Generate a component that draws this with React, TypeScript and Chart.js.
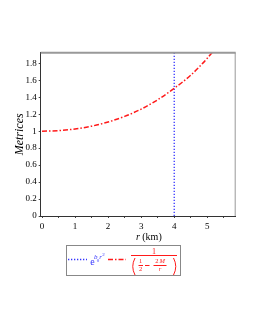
import React, { useEffect, useRef } from "react";
import { Chart, registerables } from "chart.js";

Chart.register(...registerables);

// Data
const rValues = [0, 0.5, 1, 1.5, 2, 2.5, 3, 3.5, 4, 4.5, 5, 5.5];
const metricValues = [1.0, 1.006, 1.026, 1.059, 1.108, 1.174, 1.26, 1.37, 1.506, 1.66, 1.86, 2.1];
const radiusLineX = [4, 4];
const radiusLineY = [0, 1.925];
const xMajorTicks = [0, 1, 2, 3, 4, 5];
const xMinorTicks = [0.5, 1.5, 2.5, 3.5, 4.5, 5.5];
const yTicks = [0, 0.2, 0.4, 0.6, 0.8, 1, 1.2, 1.4, 1.6, 1.8];
const yTitle = "Metrices";
const xTitleVar = "r";
const xTitleUnit = " (km)";

const SERIF = "'Liberation Serif', 'DejaVu Serif', serif";
const RED = "#ff1a1a";
const BLUE = "#3333ff";

const decorPlugin = {
  id: "decor",
  afterDraw(chart: any) {
    const ctx = chart.ctx as CanvasRenderingContext2D;
    const a = chart.chartArea;
    ctx.save();
    // frame top and right
    ctx.strokeStyle = "#999";
    ctx.setLineDash([]);
    ctx.lineWidth = 2;
    ctx.beginPath();
    ctx.moveTo(a.left, a.top);
    ctx.lineTo(a.right, a.top);
    ctx.stroke();
    ctx.lineWidth = 1;
    ctx.beginPath();
    ctx.moveTo(a.right - 0.5, a.top);
    ctx.lineTo(a.right - 0.5, a.bottom);
    ctx.stroke();

    // y title
    ctx.fillStyle = "#000";
    ctx.font = `italic 12px ${SERIF}`;
    ctx.textAlign = "center";
    ctx.textBaseline = "middle";
    ctx.save();
    ctx.translate(20, (a.top + a.bottom) / 2);
    ctx.rotate(-Math.PI / 2);
    ctx.fillText(yTitle, 0, 0);
    ctx.restore();

    // x title
    ctx.textAlign = "left";
    ctx.font = `italic 10px ${SERIF}`;
    const w1 = ctx.measureText(xTitleVar).width;
    ctx.font = `10px ${SERIF}`;
    const w2 = ctx.measureText(xTitleUnit).width;
    const x0 = 148.8 - (w1 + w2) / 2;
    ctx.font = `italic 10px ${SERIF}`;
    ctx.fillText(xTitleVar, x0, 237.5);
    ctx.font = `10px ${SERIF}`;
    ctx.fillText(xTitleUnit, x0 + w1, 237.5);

    // legend box
    ctx.strokeStyle = "#888";
    ctx.lineWidth = 1;
    ctx.strokeRect(66.5, 245.5, 114, 30);

    // blue sample
    ctx.strokeStyle = BLUE;
    ctx.lineWidth = 1.3;
    ctx.setLineDash([1.3, 1.7]);
    ctx.beginPath();
    ctx.moveTo(68, 259.5);
    ctx.lineTo(87, 259.5);
    ctx.stroke();
    ctx.setLineDash([]);
    ctx.fillStyle = BLUE;
    ctx.textBaseline = "alphabetic";
    ctx.textAlign = "left";
    ctx.font = `10px ${SERIF}`;
    ctx.fillText("e", 90.3, 265);
    ctx.font = `italic 7px ${SERIF}`;
    ctx.fillText("b", 94, 258.5);
    ctx.font = `5px ${SERIF}`;
    ctx.fillText("0", 96.8, 262);
    ctx.font = `italic 7px ${SERIF}`;
    ctx.fillText("r", 99.2, 258.5);
    ctx.font = `5px ${SERIF}`;
    ctx.fillText("2", 102.3, 255.5);

    // red sample
    ctx.strokeStyle = RED;
    ctx.lineWidth = 1.5;
    ctx.setLineDash([5, 2, 1.5, 2]);
    ctx.beginPath();
    ctx.moveTo(108, 259.5);
    ctx.lineTo(126, 259.5);
    ctx.stroke();
    ctx.setLineDash([]);

    // red fraction
    ctx.fillStyle = RED;
    ctx.textAlign = "center";
    ctx.textBaseline = "middle";
    ctx.font = `8px ${SERIF}`;
    ctx.fillText("1", 154, 251.5);
    ctx.lineWidth = 1;
    ctx.beginPath();
    ctx.moveTo(131, 255.5);
    ctx.lineTo(177, 255.5);
    ctx.stroke();
    // parens
    ctx.beginPath();
    ctx.moveTo(135, 258);
    ctx.quadraticCurveTo(130.5, 266.5, 135, 275);
    ctx.moveTo(173.5, 258);
    ctx.quadraticCurveTo(178, 266.5, 173.5, 275);
    ctx.stroke();
    // inner 1/2
    ctx.font = `6.5px ${SERIF}`;
    ctx.fillText("1", 140.7, 261);
    ctx.fillText("2", 140.7, 269);
    ctx.beginPath();
    ctx.moveTo(138.5, 265.5);
    ctx.lineTo(143, 265.5);
    ctx.stroke();
    // minus
    ctx.beginPath();
    ctx.moveTo(145, 265.5);
    ctx.lineTo(149.5, 265.5);
    ctx.stroke();
    // 2M / r
    ctx.textAlign = "left";
    ctx.font = `6.5px ${SERIF}`;
    const tw = ctx.measureText("2").width;
    ctx.font = `italic 6.5px ${SERIF}`;
    const mw = ctx.measureText("M").width;
    const sx = 160 - (tw + 1 + mw) / 2;
    ctx.font = `6.5px ${SERIF}`;
    ctx.fillText("2", sx, 261);
    ctx.font = `italic 6.5px ${SERIF}`;
    ctx.fillText("M", sx + tw + 1, 261);
    ctx.textAlign = "center";
    ctx.fillText("r", 160, 269.5);
    ctx.beginPath();
    ctx.moveTo(153.5, 265.5);
    ctx.lineTo(166.5, 265.5);
    ctx.stroke();

    ctx.restore();
  },
};

export default function App() {
  const ref = useRef<HTMLCanvasElement | null>(null);
  useEffect(() => {
    if (!ref.current) return;
    const chart = new Chart(ref.current, {
      type: "line",
      data: {
        datasets: [
          {
            data: rValues.map((r, i) => ({ x: r, y: metricValues[i] })),
            borderColor: RED,
            borderWidth: 1.5,
            borderDash: [5, 2, 1.5, 2],
            pointRadius: 0,
            cubicInterpolationMode: "monotone",
            fill: false,
          },
          {
            data: radiusLineX.map((x, i) => ({ x, y: radiusLineY[i] })),
            borderColor: BLUE,
            borderWidth: 1.3,
            borderDash: [1.3, 1.7],
            pointRadius: 0,
            fill: false,
          },
        ],
      },
      options: {
        animation: false,
        responsive: true,
        maintainAspectRatio: false,
        layout: { padding: { left: 0, top: 52.7, right: 19.3, bottom: 94 } },
        plugins: { legend: { display: false }, tooltip: { enabled: false } },
        scales: {
          x: {
            type: "linear",
            min: -0.04,
            max: 5.86,
            afterFit: (s: any) => {
              s.height = 20;
            },
            afterBuildTicks: (s: any) => {
              s.ticks = [...xMajorTicks, ...xMinorTicks]
                .sort((p, q) => p - q)
                .map((v) => ({ value: v }));
            },
            grid: {
              drawOnChartArea: false,
              drawTicks: true,
              tickLength: 2,
              color: "#444",
            },
            border: { color: "#333", width: 1 },
            ticks: {
              autoSkip: false,
              maxRotation: 0,
              padding: 3,
              color: "#000",
              font: { family: SERIF, size: 9 },
              callback: (v: any) => (xMajorTicks.includes(Number(v)) ? String(v) : ""),
            },
          },
          y: {
            type: "linear",
            min: 0,
            max: 1.925,
            afterFit: (s: any) => {
              s.width = 40.7;
            },
            afterBuildTicks: (s: any) => {
              s.ticks = yTicks.map((v) => ({ value: v }));
            },
            grid: {
              drawOnChartArea: false,
              drawTicks: true,
              tickLength: 2,
              color: "#444",
            },
            border: { color: "#333", width: 1 },
            ticks: {
              autoSkip: false,
              padding: 2,
              color: "#000",
              font: { family: SERIF, size: 9 },
              callback: (v: any) => String(Math.round(Number(v) * 10) / 10),
            },
          },
        },
      },
      plugins: [decorPlugin],
    } as any);
    return () => chart.destroy();
  }, []);
  return (
    <div style={{ position: "absolute", left: 0, top: 0, width: 255, height: 330, background: "#fff" }}>
      <canvas ref={ref} />
    </div>
  );
}
